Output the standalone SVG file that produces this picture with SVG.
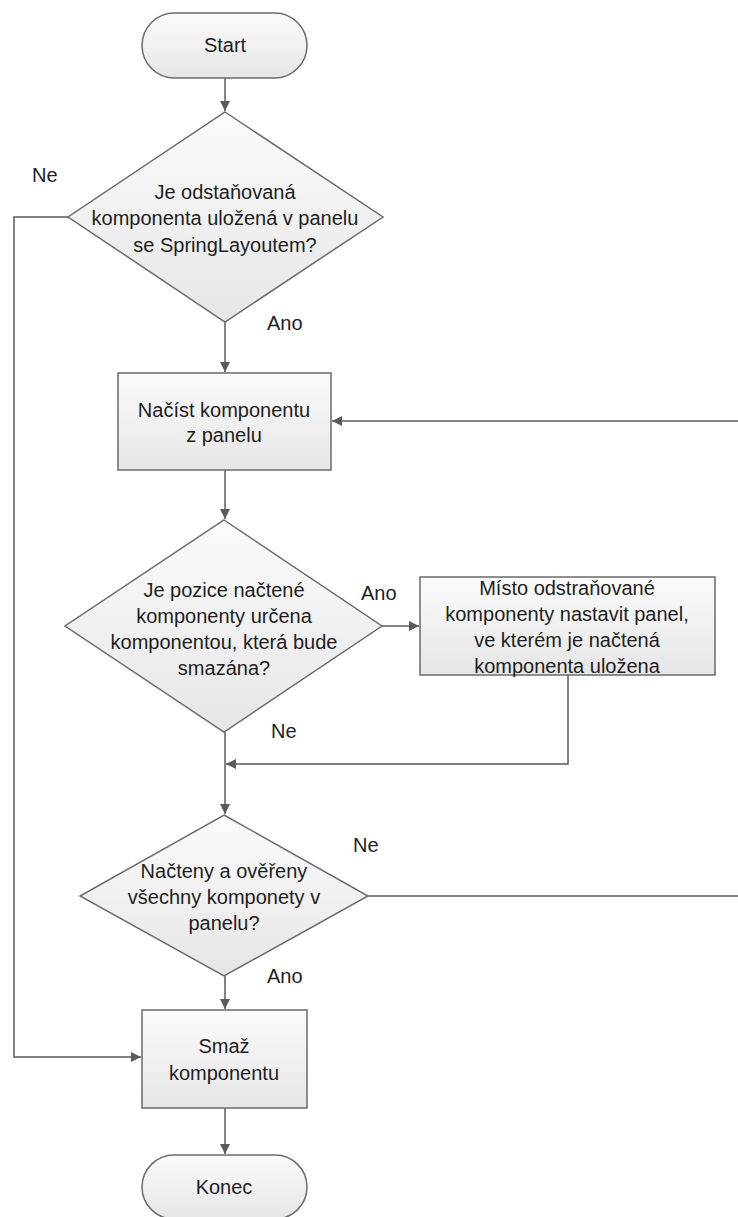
<svg xmlns="http://www.w3.org/2000/svg" width="738" height="1217" viewBox="0 0 738 1217">
<style>
.shape{fill:url(#g);stroke:#6b6b6b;stroke-width:1.5}
.t{font-family:"Liberation Sans",Arial,sans-serif;font-size:20px;fill:#1e1e1e;text-anchor:middle}
.l{font-family:"Liberation Sans",Arial,sans-serif;font-size:20px;fill:#1e1e1e}
.c{fill:none;stroke:#5a5a5a;stroke-width:1.5}
</style>
<defs>
<linearGradient id="g" x1="0" y1="0" x2="0" y2="1">
<stop offset="0" stop-color="#fbfbfb"/>
<stop offset="1" stop-color="#e6e6e6"/>
</linearGradient>
<marker id="a" markerWidth="12" markerHeight="12" refX="10" refY="5" orient="auto" markerUnits="userSpaceOnUse">
<path d="M0,0 L10,5 L0,10 Z" fill="#5a5a5a"/>
</marker>
</defs>
<rect width="738" height="1217" fill="#ffffff"/>
<g id="connectors">
<path class="c" d="M225,78 L225,111" marker-end="url(#a)"/>
<path class="c" d="M225,322 L225,372" marker-end="url(#a)"/>
<path class="c" d="M68,217 L14,217 L14,1057 L141,1057" marker-end="url(#a)"/>
<path class="c" d="M738,421 L332,421" marker-end="url(#a)"/>
<path class="c" d="M225,470 L225,519" marker-end="url(#a)"/>
<path class="c" d="M382,626 L419,626" marker-end="url(#a)"/>
<path class="c" d="M568,675 L568,764 L226,764" marker-end="url(#a)"/>
<path class="c" d="M225,732 L225,814" marker-end="url(#a)"/>
<path class="c" d="M368,896 L738,896"/>
<path class="c" d="M225,976 L225,1009" marker-end="url(#a)"/>
<path class="c" d="M225,1108 L225,1154" marker-end="url(#a)"/>
<text class="l" x="32" y="182">Ne</text>
<text class="l" x="267" y="330">Ano</text>
<text class="l" x="361" y="600">Ano</text>
<text class="l" x="271" y="738">Ne</text>
<text class="l" x="353" y="852">Ne</text>
<text class="l" x="267" y="983">Ano</text>
</g>
<g id="start">
<rect class="shape" x="142" y="13" width="165" height="65" rx="32.5"/>
<text class="t" x="225" y="52">Start</text>
</g>
<g id="decision1">
<polygon class="shape" points="225,112 383,217 225,322 68,217"/>
<text class="t" x="225" y="199">Je odstaňovaná</text>
<text class="t" x="225" y="225">komponenta uložená v panelu</text>
<text class="t" x="225" y="252">se SpringLayoutem?</text>
</g>
<g id="load">
<rect class="shape" x="118" y="373" width="213" height="97"/>
<text class="t" x="224" y="417">Načíst komponentu</text>
<text class="t" x="224" y="442">z panelu</text>
</g>
<g id="decision2">
<polygon class="shape" points="224,520 382,626 224,732 65,626"/>
<text class="t" x="224" y="597">Je pozice načtené</text>
<text class="t" x="224" y="623">komponenty určena</text>
<text class="t" x="224" y="649">komponentou, která bude</text>
<text class="t" x="224" y="675">smazána?</text>
</g>
<g id="setpanel">
<rect class="shape" x="420" y="577" width="295" height="98"/>
<text class="t" x="567" y="595">Místo odstraňované</text>
<text class="t" x="567" y="621">komponenty nastavit panel,</text>
<text class="t" x="567" y="647">ve kterém je načtená</text>
<text class="t" x="567" y="673">komponenta uložena</text>
</g>
<g id="decision3">
<polygon class="shape" points="224,815 368,896 224,976 80,896"/>
<text class="t" x="224" y="878">Načteny a ověřeny</text>
<text class="t" x="224" y="904">všechny komponety v</text>
<text class="t" x="224" y="930">panelu?</text>
</g>
<g id="delete">
<rect class="shape" x="142" y="1010" width="165" height="98"/>
<text class="t" x="224" y="1053">Smaž</text>
<text class="t" x="224" y="1080">komponentu</text>
</g>
<g id="end">
<rect class="shape" x="142" y="1155" width="165" height="64" rx="32"/>
<text class="t" x="224" y="1194">Konec</text>
</g>
</svg>
